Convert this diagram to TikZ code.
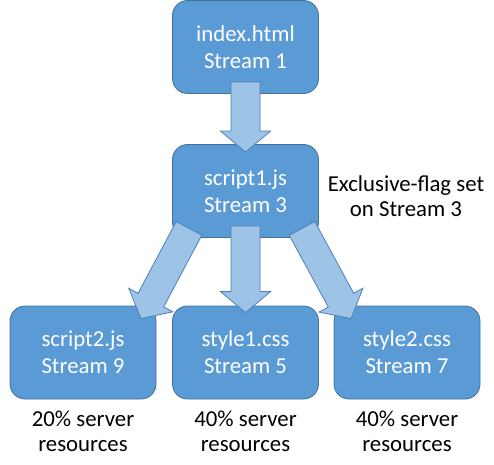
\documentclass[tikz,border=0pt]{standalone}
\usepackage{fontspec}
\setmainfont{Carlito}
\usetikzlibrary{calc}

\definecolor{boxfill}{HTML}{5B9BD5}
\definecolor{boxline}{HTML}{41719C}
\definecolor{arrowfill}{HTML}{9DC3E6}
\definecolor{arrowline}{HTML}{4F81B8}

\tikzset{
  box/.style={draw=boxline, fill=boxfill, line width=0.8pt, rounded corners=15pt,
    minimum width=146pt, minimum height=93pt, text=white, align=center,
    font=\fontsize{22.8}{27}\selectfont},
  note/.style={align=center, font=\fontsize{22.8}{25}\selectfont},
  blockarrow/.style={draw=arrowline, fill=arrowfill, line width=0.8pt, line join=miter,
    to path={($(\tikztostart)!14.5pt!90:(\tikztotarget)$)
      -- ($(\tikztotarget)!21pt!(\tikztostart)!14.5pt!-90:(\tikztostart)$)
      -- ($(\tikztotarget)!21pt!(\tikztostart)!25pt!-90:(\tikztostart)$)
      -- (\tikztotarget)
      -- ($(\tikztotarget)!21pt!(\tikztostart)!25pt!90:(\tikztostart)$)
      -- ($(\tikztotarget)!21pt!(\tikztostart)!14.5pt!90:(\tikztostart)$)
      -- ($(\tikztostart)!14.5pt!-90:(\tikztotarget)$) -- cycle}}
}

\begin{document}
\begin{tikzpicture}[x=1pt, y=1pt]
    \useasboundingbox (0,0) rectangle (494,464);

    % Streams
    \node[box] (idx) at (245.5, 417) {index.html\\Stream 1};
    \node[box] (js1) at (245.5, 273) {script1.js\\Stream 3};
    \node[box] (js2) at (83, 111.5) {script2.js\\Stream 9};
    \node[box] (css1) at (245.5, 111.5) {style1.css\\Stream 5};
    \node[box] (css2) at (407, 111.5) {style2.css\\Stream 7};

    % Notes
    \node[note] (excl) at (406, 268) {Exclusive-flag set\\on Stream 3};
    \node[note] (res9) at (83, 33) {20\% server\\resources};
    \node[note] (res5) at (245.5, 33) {40\% server\\resources};
    \node[note] (res7) at (407, 33) {40\% server\\resources};

    % Dependencies
    \draw[blockarrow] ([yshift=12pt]idx.south) to ([yshift=-8pt]js1.north);
    \draw[blockarrow] ([xshift=-56.5pt, yshift=9.5pt]js1.south) to ([xshift=58pt, yshift=-13pt]js2.north);
    \draw[blockarrow] ([yshift=12pt]js1.south) to ([yshift=-7pt]css1.north);
    \draw[blockarrow] ([xshift=56.5pt, yshift=9.5pt]js1.south) to ([xshift=-56pt, yshift=-13pt]css2.north);
\end{tikzpicture}
\end{document}
